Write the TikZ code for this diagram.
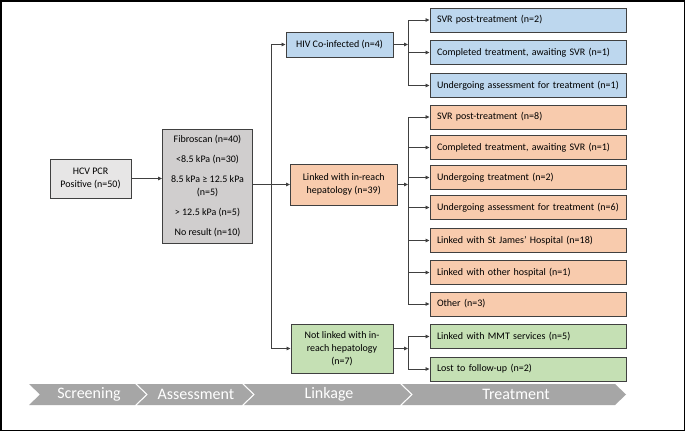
\documentclass[tikz,border=0pt]{standalone}
\usepackage{fontspec}
\setmainfont{Carlito}
\usetikzlibrary{arrows.meta}
\definecolor{boxline}{HTML}{404040}
\definecolor{lineclr}{HTML}{404040}
\definecolor{hcvgray}{HTML}{E7E6E6}
\definecolor{fibgray}{HTML}{D0CECE}
\definecolor{bluef}{HTML}{BDD7EE}
\definecolor{orangef}{HTML}{F8CBAD}
\definecolor{greenf}{HTML}{C5E0B4}
\definecolor{chevgray}{HTML}{A6A6A6}
\begin{document}
\begin{tikzpicture}[x=1pt,y=-1pt,
  box/.style={draw=boxline, line width=0.9pt, inner sep=2pt, align=center, font=\fontsize{10}{13}\selectfont},
  rbox/.style={box, align=left, text width=182pt, inner xsep=7pt, minimum height=24pt, anchor=center},
  conn/.style={draw=lineclr, line width=0.8pt},
  arr/.style={conn, -{Triangle[length=4pt,width=3.5pt]}},
  chev/.style={fill=chevgray, draw=none},
  chevtext/.style={text=white, font=\fontsize{16}{16}\selectfont, inner sep=0pt}]
\useasboundingbox (0,0) rectangle (685,431);
\fill[white] (0,0) rectangle (685,431);
\draw[black, line width=1.5pt] (0.75,0.75) rectangle (684.25,430.25);

% left boxes
\node[box, fill=hcvgray, minimum width=81pt, minimum height=39pt] (hcv) at (90.5,178.5) {HCV PCR\\Positive (n=50)};
\node[box, fill=fibgray, minimum width=90pt, minimum height=114pt] (fib) at (207.5,186) {Fibroscan (n=40)\\[7pt]<8.5 kPa (n=30)\\[7pt]8.5 kPa ≥ 12.5 kPa\\(n=5)\\[7pt]> 12.5 kPa (n=5)\\[7pt]No result (n=10)};

% linkage boxes
\node[box, fill=bluef, minimum width=107pt, minimum height=25pt] (hiv) at (339.5,44.5) {HIV Co-infected (n=4)};
\node[box, fill=orangef, minimum width=106.5pt, minimum height=41pt] (link) at (343.75,184.5) {Linked with in-reach\\hepatology (n=39)};
\node[box, fill=greenf, minimum width=102pt, minimum height=49pt] (notl) at (342,348.5) {Not linked with in-\\reach hepatology\\(n=7)};

% treatment boxes
\node[rbox, fill=bluef] (r1) at (528,20) {SVR post-treatment (n=2)};
\node[rbox, fill=bluef] (r2) at (528,52.5) {Completed treatment, awaiting SVR (n=1)};
\node[rbox, fill=bluef] (r3) at (528,85.5) {Undergoing assessment for treatment (n=1)};
\node[rbox, fill=orangef] (o1) at (528,117) {SVR post-treatment (n=8)};
\node[rbox, fill=orangef] (o2) at (528,147.5) {Completed treatment, awaiting SVR (n=1)};
\node[rbox, fill=orangef] (o3) at (528,177.5) {Undergoing treatment (n=2)};
\node[rbox, fill=orangef] (o4) at (528,207.5) {Undergoing assessment for treatment (n=6)};
\node[rbox, fill=orangef] (o5) at (528,240.5) {Linked with St James’ Hospital (n=18)};
\node[rbox, fill=orangef] (o6) at (528,272.5) {Linked with other hospital (n=1)};
\node[rbox, fill=orangef] (o7) at (528,304) {Other (n=3)};
\node[rbox, fill=greenf] (g1) at (528,336.5) {Linked with MMT services (n=5)};
\node[rbox, fill=greenf] (g2) at (528,369) {Lost to follow-up (n=2)};

% connectors
\coordinate (trunk) at (271,186);
\coordinate (bus) at (408,186);
\draw[arr] (hcv.east) -- (hcv.east -| fib.west);
\draw[arr] (fib.east |- link.west) -- (link.west);
\draw[conn] (trunk |- hiv.west) -- (trunk |- notl.west);
\draw[arr] (trunk |- hiv.west) -- (hiv.west);
\draw[arr] (trunk |- notl.west) -- (notl.west);

\draw[arr] (hiv.east) -- (hiv.east -| bus);
\draw[conn] (bus |- r1.west) -- (bus |- r3.west);
\foreach \n in {r1,r2,r3} \draw[arr] (bus |- \n.west) -- (\n.west);

\draw[arr] (link.east) -- (link.east -| bus);
\draw[conn] (bus |- o1.west) -- (bus |- o7.west);
\foreach \n in {o1,o2,o3,o4,o5,o6,o7} \draw[arr] (bus |- \n.west) -- (\n.west);

\draw[arr] (notl.east) -- (notl.east -| bus);
\draw[conn] (bus |- g1.west) -- (bus |- g2.west);
\foreach \n in {g1,g2} \draw[arr] (bus |- \n.west) -- (\n.west);

% chevron bar
\fill[chev] (29,384) -- (135,384) -- (146,394.5) -- (135,405) -- (29,405) -- (40,394.5) -- cycle;
\fill[chev] (137,384) -- (242,384) -- (253,394.5) -- (242,405) -- (137,405) -- (148,394.5) -- cycle;
\fill[chev] (244,384) -- (400,384) -- (411,394.5) -- (400,405) -- (244,405) -- (255,394.5) -- cycle;
\fill[chev] (402,384) -- (615,384) -- (626,394.5) -- (615,405) -- (402,405) -- (413,394.5) -- cycle;
\node[chevtext] (c1) at (89,394.5) {Screening};
\node[chevtext] (c2) at (196,394.5) {Assessment};
\node[chevtext] (c3) at (329,394.5) {Linkage};
\node[chevtext] (c4) at (516,394.5) {Treatment};
\end{tikzpicture}
\end{document}
